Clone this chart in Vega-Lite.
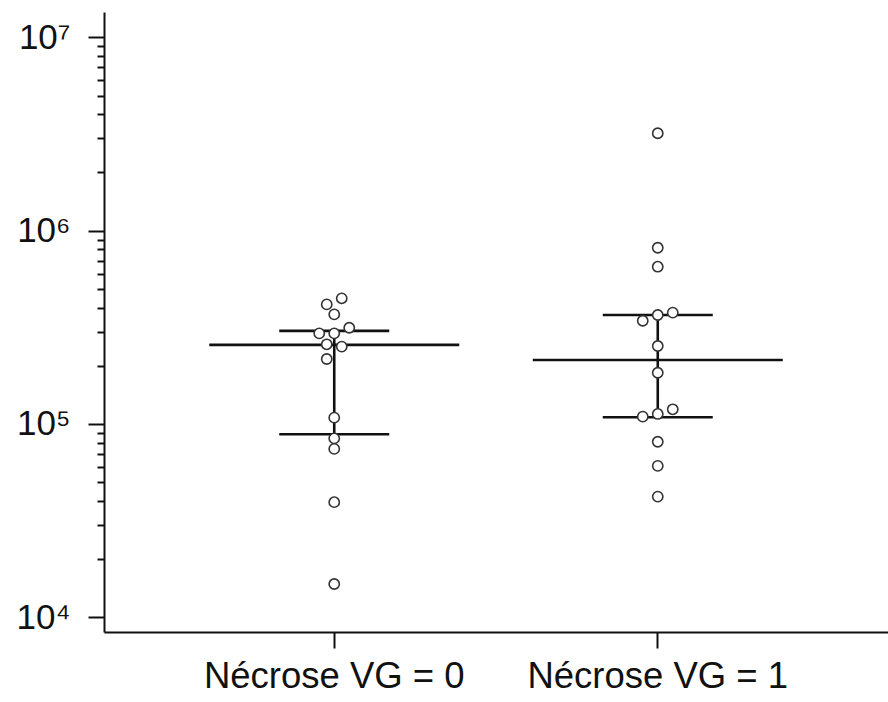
{
  "$schema": "https://vega.github.io/schema/vega-lite/v6.json",
  "width": 784,
  "height": 620,
  "autosize": "none",
  "padding": {"left": 104, "top": 12, "right": 0, "bottom": 70},
  "background": "white",
  "config": {"view": {"stroke": null}},
  "datasets": {
    "points": [
      {"group": "Nécrose VG = 0", "value": 446700, "col": 1},
      {"group": "Nécrose VG = 0", "value": 415600, "col": -1},
      {"group": "Nécrose VG = 0", "value": 369000, "col": 0},
      {"group": "Nécrose VG = 0", "value": 314600, "col": 2},
      {"group": "Nécrose VG = 0", "value": 294300, "col": -2},
      {"group": "Nécrose VG = 0", "value": 294300, "col": 0},
      {"group": "Nécrose VG = 0", "value": 258300, "col": -1},
      {"group": "Nécrose VG = 0", "value": 251400, "col": 1},
      {"group": "Nécrose VG = 0", "value": 216800, "col": -1},
      {"group": "Nécrose VG = 0", "value": 107800, "col": 0},
      {"group": "Nécrose VG = 0", "value": 84300, "col": 0},
      {"group": "Nécrose VG = 0", "value": 74300, "col": 0},
      {"group": "Nécrose VG = 0", "value": 39400, "col": 0},
      {"group": "Nécrose VG = 0", "value": 14870, "col": 0},
      {"group": "Nécrose VG = 1", "value": 3190000, "col": 0},
      {"group": "Nécrose VG = 1", "value": 816000, "col": 0},
      {"group": "Nécrose VG = 1", "value": 651000, "col": 0},
      {"group": "Nécrose VG = 1", "value": 342000, "col": -2},
      {"group": "Nécrose VG = 1", "value": 366000, "col": 0},
      {"group": "Nécrose VG = 1", "value": 376500, "col": 2},
      {"group": "Nécrose VG = 1", "value": 253200, "col": 0},
      {"group": "Nécrose VG = 1", "value": 184000, "col": 0},
      {"group": "Nécrose VG = 1", "value": 109100, "col": -2},
      {"group": "Nécrose VG = 1", "value": 112700, "col": 0},
      {"group": "Nécrose VG = 1", "value": 119100, "col": 2},
      {"group": "Nécrose VG = 1", "value": 80900, "col": 0},
      {"group": "Nécrose VG = 1", "value": 60700, "col": 0},
      {"group": "Nécrose VG = 1", "value": 42100, "col": 0}
    ],
    "stats": [
      {"group": "Nécrose VG = 0", "median": 256500, "q1": 88450, "q3": 303200},
      {"group": "Nécrose VG = 1", "median": 214200, "q1": 108300, "q3": 366400}
    ]
  },
  "encoding": {
    "x": {
      "field": "group",
      "type": "nominal",
      "scale": {"paddingInner": 0, "paddingOuter": 0.2117},
      "axis": {
        "title": null,
        "labelAngle": 0,
        "labelLimit": 0,
        "labelFont": "Liberation Sans",
        "labelFontSize": 36.5,
        "labelColor": "#111",
        "labelPadding": 10,
        "tickSize": 16,
        "tickWidth": 2,
        "tickColor": "#111",
        "domainColor": "#111",
        "domainWidth": 2
      }
    }
  },
  "layer": [
    {
      "data": {"name": "stats"},
      "mark": {"type": "rule", "color": "#111", "strokeWidth": 2.6},
      "encoding": {
        "y": {
          "field": "q1",
          "type": "quantitative",
          "scale": {"type": "log", "domain": [8395, 13521000], "nice": false},
          "axis": {
            "title": null,
            "grid": false,
            "values": [10000, 20000, 30000, 40000, 50000, 60000, 70000, 80000, 90000, 100000, 200000, 300000, 400000, 500000, 600000, 700000, 800000, 900000, 1000000, 2000000, 3000000, 4000000, 5000000, 6000000, 7000000, 8000000, 9000000, 10000000],
            "labelExpr": "datum.value == 10000 ? '10⁴' : datum.value == 100000 ? '10⁵' : datum.value == 1000000 ? '10⁶' : datum.value == 10000000 ? '10⁷' : ''",
            "labelOverlap": false,
            "labelBound": false,
            "labelFlush": false,
            "labelFont": "Liberation Sans",
            "labelFontSize": 35,
            "labelColor": "#111",
            "labelPadding": 18,
            "tickSize": {"condition": {"test": "indexof([10000, 100000, 1000000, 10000000], datum.value) >= 0", "value": 16}, "value": 7},
            "tickWidth": 2,
            "tickColor": "#111",
            "domainColor": "#111",
            "domainWidth": 2
          }
        },
        "y2": {"field": "q3"}
      }
    },
    {
      "data": {"name": "stats"},
      "mark": {"type": "tick", "color": "#111", "size": 250, "thickness": 2.6, "opacity": 1},
      "encoding": {"y": {"field": "median", "type": "quantitative"}}
    },
    {
      "data": {"name": "stats"},
      "mark": {"type": "tick", "color": "#111", "size": 110, "thickness": 2.6, "opacity": 1},
      "encoding": {"y": {"field": "q1", "type": "quantitative"}}
    },
    {
      "data": {"name": "stats"},
      "mark": {"type": "tick", "color": "#111", "size": 110, "thickness": 2.6, "opacity": 1},
      "encoding": {"y": {"field": "q3", "type": "quantitative"}}
    },
    {
      "data": {"name": "points"},
      "mark": {"type": "point", "shape": "circle", "filled": false, "fill": "white", "fillOpacity": 1, "stroke": "#333", "strokeWidth": 1.6, "opacity": 1, "size": 105},
      "encoding": {
        "y": {"field": "value", "type": "quantitative"},
        "xOffset": {"field": "col", "type": "quantitative", "scale": {"domain": [-2, 2], "range": [146.75, 176.75]}}
      }
    }
  ]
}
